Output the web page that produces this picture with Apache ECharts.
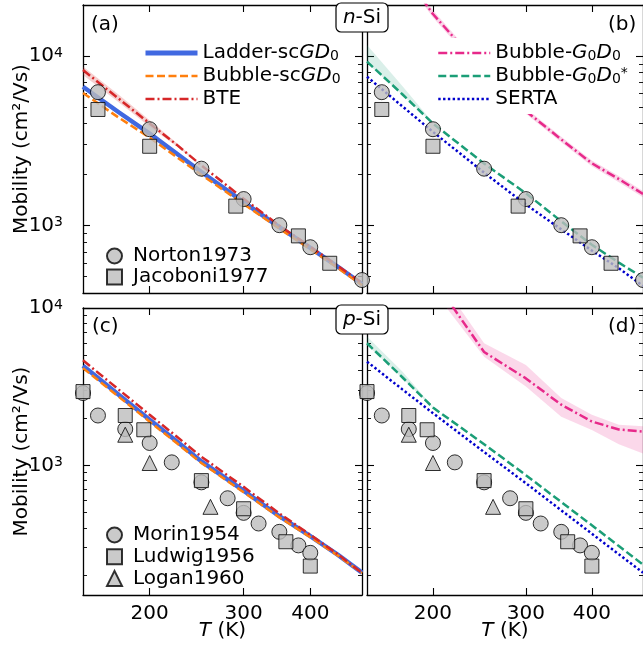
<!DOCTYPE html>
<html><head><meta charset="utf-8">
<script src="https://cdn.jsdelivr.net/npm/echarts@6/dist/echarts.min.js"></script>
<style>html,body{margin:0;padding:0;background:#fff}#c{width:643px;height:652px}</style>
</head><body><div id="c"></div><script>
const FONT = 'DejaVu Sans';
const L = Math.log10;

// ---- axes ----
const xRange = [150, 500];
const xTicks = [200, 300, 400];
const yRangeN = [400, 20000];
const yRangeP = [150, 10000];
const yMajor = [1000, 10000];
const yMinorN = [500, 600, 700, 800, 900, 2000, 3000, 4000, 5000, 6000, 7000, 8000, 9000];
const yMinorP = [200, 300, 400, 500, 600, 700, 800, 900, 2000, 3000, 4000, 5000, 6000, 7000, 8000, 9000];

// ---- n-Si theory curves ----
const T_nA = [150, 175, 200, 225, 250, 300, 350, 400, 450, 500];
const ladderN = [6590, 4660, 3490, 2650, 2070, 1375, 980, 739, 573, 452];
const bubbleScN = [6050, 4330, 3300, 2530, 1990, 1340, 960, 725, 563, 445];
const bteN = [8265, 5600, 4000, 2990, 2265, 1440, 1000, 750, 580, 458];
const T_bteBandN = [150, 175, 200, 225, 250];
const bteLoN = [7730, 5330, 3830, 2930, 2260];
const bteHiN = [8660, 5900, 4180, 3060, 2270];

const T_pinkN = [175, 200, 250, 300, 350, 400, 450, 500];
const pinkN = [31800, 17700, 8100, 4740, 3220, 2330, 1880, 1535];
const pinkLoN = [30000, 16900, 7750, 4560, 3100, 2240, 1800, 1470];
const pinkHiN = [33500, 18600, 8450, 4920, 3340, 2420, 1960, 1600];

const T_nB = [150, 175, 200, 250, 300, 350, 400, 450, 500];
const greenN = [9265, 5950, 4000, 2320, 1550, 1060, 770, 604, 493];
const sertaN = [7550, 5050, 3570, 2050, 1330, 950, 712, 560, 440];
const T_greenBandN = [150, 175, 200];
const greenLoN = [9100, 5900, 3990];
const greenHiN = [11600, 6650, 4050];

// ---- n-Si experiments ----
const T_norton = [160, 200, 250, 300, 350, 400, 500];
const norton = [6120, 3700, 2165, 1433, 1005, 745, 477];
const T_jacoboni = [160, 200, 290, 380, 435];
const jacoboni = [4838, 2935, 1302, 869, 599];

// ---- p-Si theory curves ----
const T_pA = [150, 175, 200, 225, 250, 300, 350, 400, 450, 500];
const ladderP = [4300, 2810, 1950, 1420, 1060, 690, 475, 355, 271, 208];
const bubbleScP = [4150, 2730, 1895, 1380, 1035, 675, 467, 350, 268, 207];
const bteP = [4650, 3030, 2095, 1520, 1135, 730, 495, 362, 273, 207];

const T_pinkP = [200, 250, 300, 350, 400, 450, 500];
const pinkP = [15400, 5250, 3570, 2430, 1900, 1690, 1640];
const pinkLoP = [13000, 4900, 3170, 2040, 1680, 1360, 1190];
const pinkHiP = [17500, 5970, 4350, 2680, 2100, 1810, 1770];

const T_pB = [150, 175, 200, 250, 300, 350, 400, 450, 500];
const greenP = [5970, 3630, 2330, 1363, 866, 585, 416, 307, 234];
const sertaP = [4560, 3040, 2147, 1215, 770, 518, 368, 272, 208];
const T_greenBandP = [150, 175, 200];
const greenLoP = [5850, 3580, 2320];
const greenHiP = [6600, 3950, 2345];

// ---- p-Si experiments ----
const T_morin = [150, 160, 180, 200, 220, 250, 280, 300, 320, 350, 380, 400];
const morin = [2880, 2074, 1700, 1387, 1045, 780, 618, 499, 427, 378, 310, 278];
const T_ludwig = [150, 180, 195, 250, 300, 360, 400];
const ludwig = [2944, 2074, 1684, 800, 530, 327, 229];
const T_logan = [180, 200, 260];
const logan = [1565, 1035, 545];

// ---- styles ----
const C = {
  ladder: '#4169e1', bubbleSc: '#ff7f0e', bte: '#d62728',
  pink: '#e7298a', green: '#1b9e77', serta: '#0000cc'
};
const RICH = {
  i: { fontStyle: 'italic', fontSize: 20, fontFamily: FONT, lineHeight: 20 },
  sub: { fontSize: 14, fontFamily: FONT, lineHeight: 8, verticalAlign: 'bottom' },
  sup: { fontSize: 14, fontFamily: FONT, lineHeight: 8, verticalAlign: 'top' }
};
const LEG_LABEL = {
  'Ladder-scGD0': 'Ladder-sc{i|GD}{sub|0}',
  'Bubble-scGD0': 'Bubble-sc{i|GD}{sub|0}',
  'BTE': 'BTE',
  'Bubble-G0D0': 'Bubble-{i|G}{sub|0}{i|D}{sub|0}',
  'Bubble-G0D0*': 'Bubble-{i|G}{sub|0}{i|D}{sub|0}{sup|*}',
  'SERTA': 'SERTA'
};

const grids = [
  { left: 83, top: 5, width: 279, height: 288 },
  { left: 367, top: 5, width: 279, height: 288 },
  { left: 83, top: 308, width: 279, height: 287 },
  { left: 367, top: 308, width: 279, height: 287 }
];

const xAxes = [], yAxes = [];
for (let g = 0; g < 4; g++) {
  const bottomRow = g >= 2;
  ['bottom', 'top'].forEach(pos => {
    xAxes.push({
      gridIndex: g, type: 'value', min: L(xRange[0]), max: L(xRange[1]), position: pos,
      axisLine: { show: true, onZero: false, lineStyle: { color: '#000', width: 1.3 } },
      axisTick: { show: true, inside: true, length: 7, customValues: xTicks.map(L), lineStyle: { color: '#000', width: 1.1 } },
      axisLabel: {
        show: bottomRow && pos === 'bottom', customValues: xTicks.map(L),
        formatter: v => String(Math.round(Math.pow(10, v))),
        fontSize: 20, fontFamily: FONT, color: '#000', margin: 9
      },
      splitLine: { show: false },
      name: (bottomRow && pos === 'bottom') ? '{i|T} (K)' : '',
      nameLocation: 'middle', nameGap: 26, nameMoveOverlap: false,
      nameTextStyle: { fontSize: 20, fontFamily: FONT, color: '#000', rich: RICH }
    });
  });
  const yr = g < 2 ? yRangeN : yRangeP;
  const minor = g < 2 ? yMinorN : yMinorP;
  const leftCol = g % 2 === 0;
  ['left', 'right'].forEach(pos => {
    yAxes.push({
      gridIndex: g, type: 'value', min: L(yr[0]), max: L(yr[1]), position: pos,
      axisLine: { show: true, onZero: false, lineStyle: { color: '#000', width: 1.3 } },
      axisTick: { show: true, inside: true, length: 7, customValues: yMajor.map(L), lineStyle: { color: '#000', width: 1.1 } },
      axisLabel: {
        show: leftCol && pos === 'left', customValues: yMajor.map(L),
        formatter: v => '10{sup|' + Math.round(v) + '}',
        fontSize: 20, fontFamily: FONT, color: '#000', margin: 20, lineHeight: 20, rich: RICH
      },
      splitLine: { show: false },
      name: (leftCol && pos === 'left') ? 'Mobility (cm²/Vs)' : '',
      nameLocation: 'middle', nameGap: 51, nameRotate: 90, nameMoveOverlap: false,
      nameTextStyle: { fontSize: 20, fontFamily: FONT, color: '#000' }
    });
    yAxes.push({
      gridIndex: g, type: 'value', min: L(yr[0]), max: L(yr[1]), position: pos,
      axisLine: { show: false, onZero: false },
      axisTick: { show: true, inside: true, length: 4, customValues: minor.map(L), lineStyle: { color: '#000', width: 0.9 } },
      axisLabel: { show: false },
      splitLine: { show: false }
    });
  });
}

function pts(T, v) { return T.map((t, i) => [L(t), L(v[i])]); }
function line(g, name, T, v, color, width, type, z) {
  return {
    type: 'line', name, xAxisIndex: 2 * g, yAxisIndex: 4 * g, data: pts(T, v),
    symbol: 'none', showSymbol: false, color, clip: true, z: z || 3,
    lineStyle: { color, width, type, cap: 'butt' }, emphasis: { disabled: true }
  };
}
function band(g, T, lo, hi, fill) {
  return {
    type: 'custom', xAxisIndex: 2 * g, yAxisIndex: 4 * g, clip: true, silent: true, z: 1,
    data: T.map((t, i) => [L(t), L(lo[i]), L(hi[i])]),
    encode: { x: 0, y: [1, 2] },
    renderItem(params, api) {
      if (params.dataIndex !== 0) return null;
      const up = T.map((t, i) => api.coord([L(t), L(hi[i])]));
      const dn = T.map((t, i) => api.coord([L(t), L(lo[i])])).reverse();
      return { type: 'polygon', shape: { points: up.concat(dn) }, style: { fill } };
    }
  };
}
function scat(g, name, T, v, symbol, size) {
  return {
    type: 'scatter', name, xAxisIndex: 2 * g, yAxisIndex: 4 * g, data: pts(T, v),
    symbol, symbolSize: size, z: 6, clip: true,
    itemStyle: { color: '#bdbdbd', borderColor: '#000', borderWidth: 1 }, emphasis: { disabled: true }
  };
}
const DASH = [8, 3.5];
const DASHDOT = [9, 3, 2, 3];
const DOT = [2.4, 2.4];

const series = [
  // (a)
  band(0, T_bteBandN, bteLoN, bteHiN, 'rgba(214,39,40,0.22)'),
  line(0, 'Ladder-scGD0', T_nA, ladderN, C.ladder, 4.5, 'solid', 3),
  line(0, 'Bubble-scGD0', T_nA, bubbleScN, C.bubbleSc, 2.5, DASH, 4),
  line(0, 'BTE', T_nA, bteN, C.bte, 2.5, DASHDOT, 4),
  scat(0, 'Norton1973', T_norton, norton, 'circle', 15),
  scat(0, 'Jacoboni1977', T_jacoboni, jacoboni, 'rect', 14),
  // (b)
  band(1, T_greenBandN, greenLoN, greenHiN, 'rgba(27,158,119,0.16)'),
  band(1, T_pinkN, pinkLoN, pinkHiN, 'rgba(231,41,138,0.2)'),
  line(1, 'Bubble-G0D0', T_pinkN, pinkN, C.pink, 2.5, DASHDOT, 4),
  line(1, 'Bubble-G0D0*', T_nB, greenN, C.green, 2.5, DASH, 4),
  line(1, 'SERTA', T_nB, sertaN, C.serta, 2.5, DOT, 4),
  scat(1, 'Norton1973', T_norton, norton, 'circle', 15),
  scat(1, 'Jacoboni1977', T_jacoboni, jacoboni, 'rect', 14),
  // (c)
  line(2, 'Ladder-scGD0', T_pA, ladderP, C.ladder, 4.5, 'solid', 3),
  line(2, 'Bubble-scGD0', T_pA, bubbleScP, C.bubbleSc, 2.5, DASH, 4),
  line(2, 'BTE', T_pA, bteP, C.bte, 2.5, DASHDOT, 4),
  scat(2, 'Morin1954', T_morin, morin, 'circle', 15),
  scat(2, 'Ludwig1956', T_ludwig, ludwig, 'rect', 14),
  scat(2, 'Logan1960', T_logan, logan, 'triangle', 15),
  // (d)
  band(3, T_greenBandP, greenLoP, greenHiP, 'rgba(27,158,119,0.16)'),
  band(3, T_pinkP, pinkLoP, pinkHiP, 'rgba(231,41,138,0.18)'),
  line(3, 'Bubble-G0D0', T_pinkP, pinkP, C.pink, 2.5, DASHDOT, 4),
  line(3, 'Bubble-G0D0*', T_pB, greenP, C.green, 2.5, DASH, 4),
  line(3, 'SERTA', T_pB, sertaP, C.serta, 2.5, DOT, 4),
  scat(3, 'Morin1954', T_morin, morin, 'circle', 15),
  scat(3, 'Ludwig1956', T_ludwig, ludwig, 'rect', 14),
  scat(3, 'Logan1960', T_logan, logan, 'triangle', 15)
];

const legText = { fontSize: 20, fontFamily: FONT, color: '#000', lineHeight: 20, rich: RICH };
const legendBase = { orient: 'vertical', selectedMode: false, padding: 0, z: 10, textStyle: legText, formatter: n => LEG_LABEL[n] || n };
const lineLegend = { itemStyle: { opacity: 0 }, lineStyle: { width: 2.5 }, itemWidth: 52, itemHeight: 14, itemGap: 3 };
const markLegend = { itemWidth: 15, itemHeight: 15, symbolKeepAspect: true, textStyle: Object.assign({}, legText, { padding: [0, 0, 0, 6] }) };
const legends = [
  Object.assign({}, legendBase, lineLegend, {
    data: [{ name: 'Ladder-scGD0', lineStyle: { width: 5 } }, 'Bubble-scGD0', 'BTE'], left: 143, top: 43
  }),
  Object.assign({}, legendBase, markLegend, { data: ['Norton1973', 'Jacoboni1977'], left: 106, top: 246, itemGap: 1 }),
  Object.assign({}, legendBase, lineLegend, {
    data: ['Bubble-G0D0', 'Bubble-G0D0*', 'SERTA'], left: 431, top: 38, padding: [5, 8, 5, 6], backgroundColor: '#fff'
  }),
  Object.assign({}, legendBase, markLegend, { data: ['Morin1954', 'Ludwig1956', 'Logan1960'], left: 106, top: 525, itemGap: 1.7 })
];

function panelLabel(x, y, t) {
  return { type: 'text', x, y, z: 100, style: { text: t, font: '20px "DejaVu Sans"', fill: '#000', align: 'left', verticalAlign: 'middle' } };
}
function boxLabel(cx, top, letter) {
  return [
    { type: 'rect', z: 100, shape: { x: cx - 26, y: top, width: 52, height: 29, r: 5 }, style: { fill: '#fff', stroke: '#000', lineWidth: 1.2 } },
    { type: 'text', z: 101, x: cx, y: top + 14.5, style: { text: '{i|' + letter + '}-Si', font: '20px "DejaVu Sans"', fill: '#000', align: 'center', verticalAlign: 'middle', rich: { i: { fontStyle: 'italic', fontSize: 20, fontFamily: FONT } } } }
  ];
}

const chart = echarts.init(document.getElementById('c'), null, { renderer: 'canvas' });
chart.setOption({
  animation: false,
  backgroundColor: '#fff',
  textStyle: { fontFamily: FONT },
  grid: grids,
  xAxis: xAxes,
  yAxis: yAxes,
  legend: legends,
  series,
  graphic: [
    panelLabel(91, 25, '(a)'), panelLabel(608, 25, '(b)'),
    panelLabel(92, 327, '(c)'), panelLabel(608, 327, '(d)'),
    ...boxLabel(362, 3, 'n'), ...boxLabel(362, 305, 'p')
  ]
});
</script></body></html>
